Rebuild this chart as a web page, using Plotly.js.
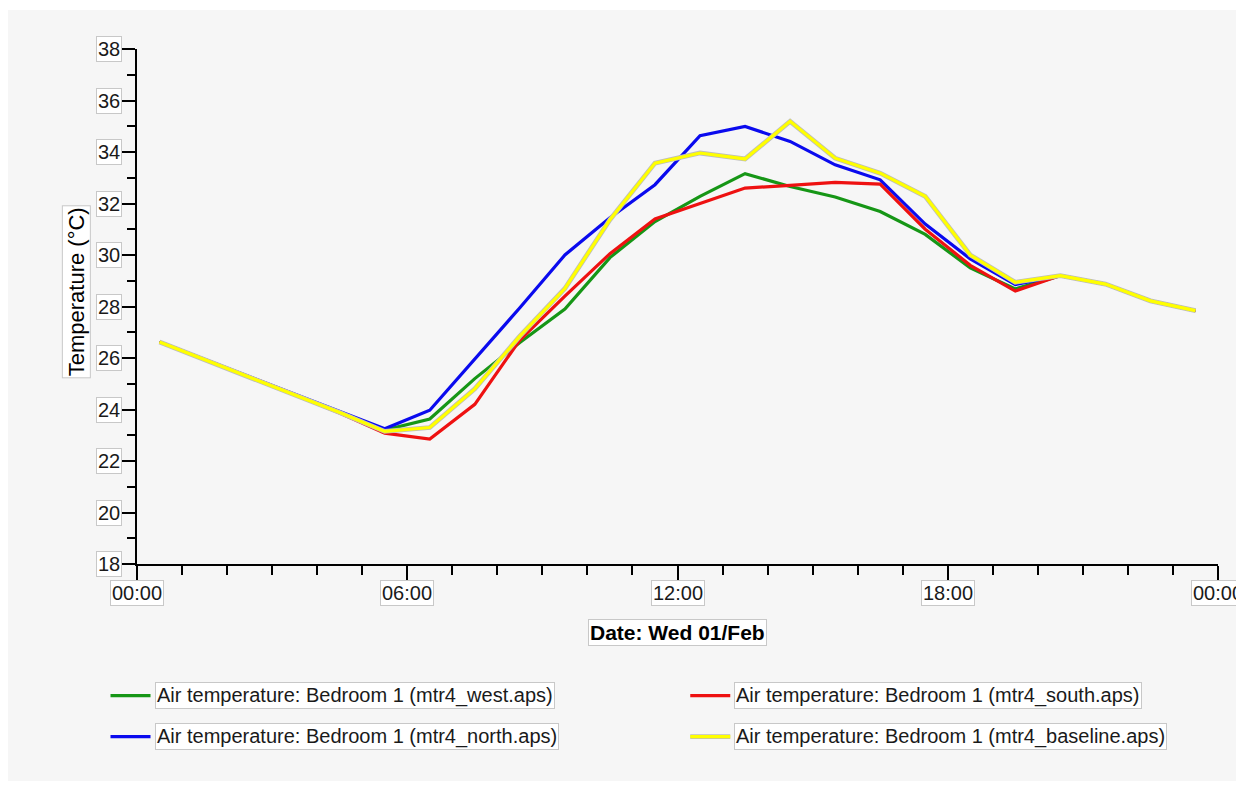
<!DOCTYPE html>
<html>
<head>
<meta charset="utf-8">
<script src="https://cdn.plot.ly/plotly-3.0.1.min.js"></script>
<style>
  html, body { margin: 0; padding: 0; background: #ffffff; width: 1250px; height: 790px; overflow: hidden; }
  #chart { position: absolute; left: 8px; top: 10px; width: 1228px; height: 771px; }
</style>
</head>
<body>
<div id="chart"></div>
<script>
// ---- data ----
const day = '2017-02-01';
const times = ['00:30','01:30','02:30','03:30','04:30','05:30','06:30','07:30','08:30','09:30','10:30','11:30',
               '12:30','13:30','14:30','15:30','16:30','17:30','18:30','19:30','20:30','21:30','22:30','23:30'];

const west     = [26.62,25.94,25.26,24.58,23.90,23.20,23.63,25.20,26.60,27.90,29.90,31.30,
                  32.28,33.16,32.66,32.25,31.69,30.80,29.50,28.68,29.20,28.87,28.22,27.84];
const south    = [26.62,25.94,25.26,24.58,23.86,23.08,22.85,24.20,26.70,28.40,30.05,31.40,
                  32.00,32.60,32.70,32.82,32.75,31.00,29.60,28.60,29.20,28.87,28.22,27.84];
const north    = [26.62,25.95,25.28,24.60,23.93,23.25,23.97,25.95,27.95,30.00,31.45,32.73,
                  34.63,34.99,34.41,33.50,32.92,31.20,29.85,28.85,29.20,28.87,28.22,27.84];
const baseline = [26.62,25.94,25.26,24.58,23.88,23.15,23.30,24.80,26.85,28.70,31.37,33.57,
                  33.96,33.73,35.19,33.76,33.18,32.28,30.00,28.94,29.20,28.87,28.22,27.84];

const seriesNames = ['Air temperature: Bedroom 1 (mtr4_west.aps)',
                     'Air temperature: Bedroom 1 (mtr4_south.aps)',
                     'Air temperature: Bedroom 1 (mtr4_north.aps)',
                     'Air temperature: Bedroom 1 (mtr4_baseline.aps)'];
const seriesColors = ['#169616', '#ee1111', '#0a0aee', '#ffff00'];

const yTickVals = [18,20,22,24,26,28,30,32,34,36,38];
const xTickVals = ['2017-02-01 00:00','2017-02-01 06:00','2017-02-01 12:00','2017-02-01 18:00','2017-02-02 00:00'];
const xTickText = ['00:00','06:00','12:00','18:00','00:00'];
const xTitle = 'Date: Wed 01/Feb';
const yTitle = 'Temperature (°C)';

// ---- build ----
const xs = times.map(t => day + ' ' + t);
const FONT = 'Liberation Sans, Arial, sans-serif';

function line(y, color, width, name) {
  return { x: xs, y: y, type: 'scatter', mode: 'lines', name: name,
           line: { color: color, width: width, shape: 'linear' },
           showlegend: false, hoverinfo: 'skip' };
}

const traces = [
  line(west, seriesColors[0], 3.2, seriesNames[0]),
  line(north, seriesColors[2], 3.2, seriesNames[2]),
  line(south, seriesColors[1], 3.2, seriesNames[1]),
  line(baseline, '#bdbdbd', 4.8, 'outline'),
  line(baseline, seriesColors[3], 3.2, seriesNames[3])
];

const boxStyle = { bordercolor: '#c8c8c8', borderwidth: 1, bgcolor: '#ffffff', borderpad: 1, showarrow: false };
const annotations = [];

yTickVals.forEach(v => annotations.push(Object.assign({
  xref: 'paper', x: 0, xanchor: 'right', xshift: -15,
  yref: 'y', y: v, yanchor: 'middle', text: String(v),
  font: { family: FONT, size: 20, color: '#1a1a1a' }
}, boxStyle)));

xTickVals.forEach((v, i) => annotations.push(Object.assign({
  xref: 'x', x: v, xanchor: 'center',
  yref: 'paper', y: 0, yanchor: 'top', yshift: -16, text: xTickText[i],
  font: { family: FONT, size: 20, color: '#1a1a1a' }
}, boxStyle)));

annotations.push(Object.assign({
  xref: 'paper', x: 0.5, xanchor: 'center', yref: 'paper', y: -0.1334, yanchor: 'middle',
  text: '<b>' + xTitle + '</b>', font: { family: FONT, size: 21, color: '#000000' }
}, boxStyle));

annotations.push(Object.assign({
  xref: 'paper', x: -0.0559, xanchor: 'center', yref: 'paper', y: 0.5287, yanchor: 'middle',
  textangle: -90, text: yTitle, font: { family: FONT, size: 22, color: '#000000' }
}, boxStyle));

// custom legend (2 columns x 2 rows)
const legendOrder = [0, 1, 2, 3];
const legCols = [-0.0245, 0.5118];
const legRows = [-0.2557, -0.3353];
const shapes = [];
legendOrder.forEach((si, k) => {
  const col = k % 2, row = Math.floor(k / 2);
  const x0 = legCols[col], x1 = x0 + 0.037, y = legRows[row];
  if (si === 3) {
    shapes.push({ type: 'line', xref: 'paper', yref: 'paper', x0: x0, x1: x1, y0: y, y1: y,
                  line: { color: '#bdbdbd', width: 4.8 } });
  }
  shapes.push({ type: 'line', xref: 'paper', yref: 'paper', x0: x0, x1: x1, y0: y, y1: y,
                line: { color: seriesColors[si], width: 3.2 } });
  annotations.push(Object.assign({
    xref: 'paper', x: x1 + 0.0037, xanchor: 'left', yref: 'paper', y: y, yanchor: 'middle',
    text: seriesNames[si], font: { family: FONT, size: 20, color: '#1a1a1a' }
  }, boxStyle));
});

const layout = {
  width: 1228, height: 771,
  margin: { l: 129, r: 18, t: 39, b: 217 },
  paper_bgcolor: '#f6f6f6', plot_bgcolor: '#f6f6f6',
  font: { family: FONT, size: 20, color: '#1a1a1a' },
  showlegend: false,
  xaxis: {
    type: 'date',
    range: ['2017-02-01 00:00', '2017-02-02 00:00'],
    tickmode: 'linear', tick0: '2017-02-01 00:00', dtick: 6 * 3600000,
    ticks: 'outside', ticklen: 15, tickwidth: 2, tickcolor: '#000',
    showticklabels: false,
    minor: { dtick: 3600000, ticks: 'outside', ticklen: 9, tickwidth: 2, tickcolor: '#000', showgrid: false },
    showline: true, linecolor: '#000', linewidth: 2,
    showgrid: false, zeroline: false, fixedrange: true
  },
  yaxis: {
    range: [18, 38],
    tickmode: 'linear', tick0: 18, dtick: 2,
    ticks: 'outside', ticklen: 14, tickwidth: 2, tickcolor: '#000',
    showticklabels: false,
    minor: { dtick: 1, ticks: 'outside', ticklen: 8, tickwidth: 2, tickcolor: '#000', showgrid: false },
    showline: true, linecolor: '#000', linewidth: 2,
    showgrid: false, zeroline: false, fixedrange: true
  },
  annotations: annotations,
  shapes: shapes
};

Plotly.newPlot('chart', traces, layout, { displayModeBar: false, staticPlot: true });
</script>
</body>
</html>
